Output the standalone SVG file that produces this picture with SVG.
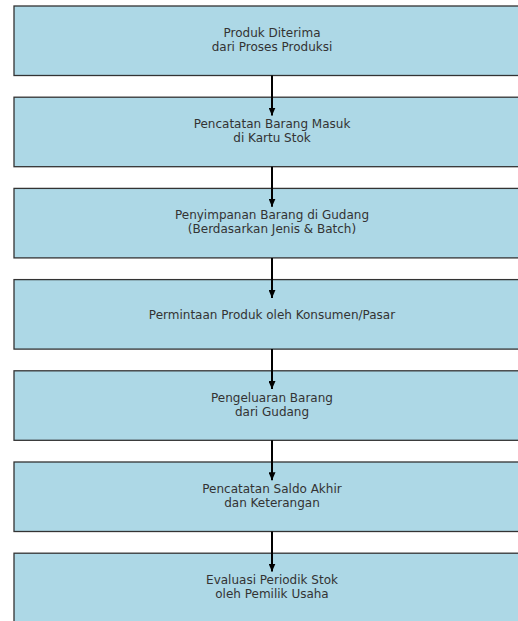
<svg xmlns="http://www.w3.org/2000/svg" width="518" height="621" viewBox="0 0 518 621">
<defs>
<style>
.box{fill:#add8e6;stroke:#333333;stroke-width:1.3}
.lbl{font-family:"DejaVu Sans",sans-serif;font-size:12px;fill:#333333;text-anchor:middle}
.edge{stroke:#000000;stroke-width:2;fill:none}
</style>
<marker id="ah" viewBox="0 0 8 7" refX="8" refY="3.5" markerWidth="8" markerHeight="7" markerUnits="userSpaceOnUse" orient="auto">
<path d="M0,0 L8,3.5 L0,7 Z" fill="#000000"/>
</marker>
</defs>
<rect width="518" height="621" fill="#ffffff"/>
<g id="n1"><rect class="box" x="14" y="6" width="516" height="69.5"/><text class="lbl" x="272" y="37">Produk Diterima</text><text class="lbl" x="272" y="50.7">dari Proses Produksi</text></g>
<g id="n2"><rect class="box" x="14" y="97.2" width="516" height="69.5"/><text class="lbl" x="272" y="128.2">Pencatatan Barang Masuk</text><text class="lbl" x="272" y="141.9">di Kartu Stok</text></g>
<g id="n3"><rect class="box" x="14" y="188.4" width="516" height="69.5"/><text class="lbl" x="272" y="219.4">Penyimpanan Barang di Gudang</text><text class="lbl" x="272" y="233.1">(Berdasarkan Jenis &amp; Batch)</text></g>
<g id="n4"><rect class="box" x="14" y="279.6" width="516" height="69.5"/><text class="lbl" x="272" y="318.5">Permintaan Produk oleh Konsumen/Pasar</text></g>
<g id="n5"><rect class="box" x="14" y="370.8" width="516" height="69.5"/><text class="lbl" x="272" y="401.8">Pengeluaran Barang</text><text class="lbl" x="272" y="415.5">dari Gudang</text></g>
<g id="n6"><rect class="box" x="14" y="462" width="516" height="69.5"/><text class="lbl" x="272" y="493">Pencatatan Saldo Akhir</text><text class="lbl" x="272" y="506.7">dan Keterangan</text></g>
<g id="n7"><rect class="box" x="14" y="553.2" width="516" height="69.5"/><text class="lbl" x="272" y="584.2">Evaluasi Periodik Stok</text><text class="lbl" x="272" y="597.9">oleh Pemilik Usaha</text></g>
<g id="edges">
<line class="edge" x1="272" y1="75.5" x2="272" y2="115.5" marker-end="url(#ah)"/>
<line class="edge" x1="272" y1="166.7" x2="272" y2="206.7" marker-end="url(#ah)"/>
<line class="edge" x1="272" y1="257.9" x2="272" y2="297.9" marker-end="url(#ah)"/>
<line class="edge" x1="272" y1="349.1" x2="272" y2="389.1" marker-end="url(#ah)"/>
<line class="edge" x1="272" y1="440.3" x2="272" y2="480.3" marker-end="url(#ah)"/>
<line class="edge" x1="272" y1="531.5" x2="272" y2="571.5" marker-end="url(#ah)"/>
</g>
</svg>
